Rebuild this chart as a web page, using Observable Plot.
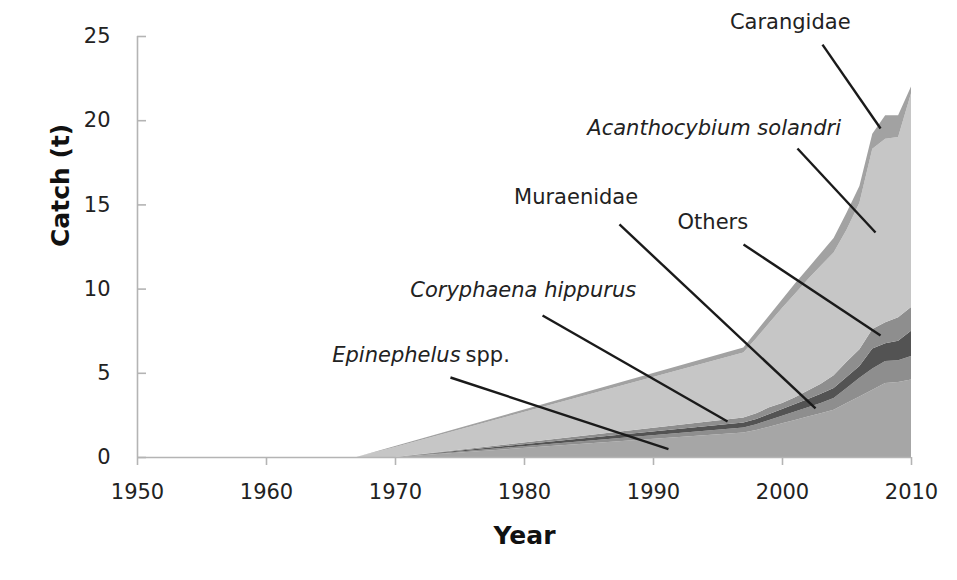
<!DOCTYPE html>
<html>
<head>
<meta charset="utf-8">
<script src="https://cdn.jsdelivr.net/npm/d3@7"></script>
<script src="https://cdn.jsdelivr.net/npm/@observablehq/plot@0.6"></script>
<style>
  html, body { margin: 0; padding: 0; background: #ffffff; }
  #chart { width: 957px; height: 580px; }
</style>
</head>
<body>
<div id="chart"></div>
<script>
// ---- data ----
const years = [1967, 1970, 1997, 1998, 1999, 2000, 2001, 2002, 2003, 2004, 2005, 2006, 2007, 2008, 2009, 2010];
const epinephelus   = [0, 0,    1.45, 1.6,  1.8,  2.0,  2.2,  2.4,  2.6,  2.8,  3.2,  3.6,  4.0,  4.4,  4.45, 4.6];
const coryphaena    = [0, 0,    0.3,  0.35, 0.4,  0.45, 0.5,  0.55, 0.6,  0.7,  0.9,  1.1,  1.25, 1.3,  1.3,  1.4];
const muraenidae    = [0, 0,    0.3,  0.3,  0.35, 0.4,  0.45, 0.5,  0.55, 0.6,  0.65, 0.7,  1.2,  1.05, 1.15, 1.5];
const others        = [0, 0,    0.3,  0.35, 0.4,  0.35, 0.4,  0.5,  0.6,  0.75, 0.9,  1.0,  1.15, 1.25, 1.4,  1.4];
const acanthocybium = [0, 0.6,  3.85, 4.45, 5.0,  5.65, 6.15, 6.6,  7.0,  7.3,  7.85, 8.7,  10.7, 10.9, 10.7, 12.7];
const carangidae    = [0, 0.05, 0.3,  0.4,  0.45, 0.5,  0.6,  0.65, 0.75, 0.85, 1.0,  1.0,  0.9,  1.4,  1.3,  0.4];

const species = ["Epinephelus spp.", "Coryphaena hippurus", "Muraenidae", "Others", "Acanthocybium solandri", "Carangidae"];
const seriesValues = [epinephelus, coryphaena, muraenidae, others, acanthocybium, carangidae];
const speciesColors = ["#a6a6a6", "#8e8e8e", "#535353", "#8e8e8e", "#c6c6c6", "#a2a2a2"];

const xTicks = [1950, 1960, 1970, 1980, 1990, 2000, 2010];
const yTicks = [0, 5, 10, 15, 20, 25];

// annotation labels (data coordinates: year, catch)
const labelText   = ["Carangidae", "Acanthocybium solandri", "Muraenidae", "Others", "Coryphaena hippurus"];
const labelItalic = [false, true, false, false, true];
const labelYear   = [2000.6, 1994.7, 1984.0, 1994.6, 1979.9];
const labelCatch  = [25.83, 19.54, 15.44, 13.95, 9.92];
const epiLabelYear = 1975.2, epiLabelCatch = 6.06;

// leader lines (data coordinates)
const leaderYear1  = [2003.1, 2001.16, 1987.36, 1996.98, 1981.40, 1974.26];
const leaderCatch1 = [24.52, 18.35, 13.84, 12.65, 8.43, 4.75];
const leaderYear2  = [2007.6, 2007.21, 2002.56, 2007.60, 1995.74, 1991.16];
const leaderCatch2 = [19.54, 13.36, 2.91, 7.24, 2.14, 0.50];

// ---- build tables ----
const rows = [];
years.forEach((yr, i) => {
  species.forEach((s, k) => rows.push({year: yr, species: s, catch: seriesValues[k][i]}));
});
const labels = labelText.map((t, i) => ({text: t, italic: labelItalic[i], year: labelYear[i], catch: labelCatch[i]}));
const leaders = leaderYear1.map((_, i) => ({x1: leaderYear1[i], y1: leaderCatch1[i], x2: leaderYear2[i], y2: leaderCatch2[i]}));

const axisGray = "#b4b4b4";
const textColor = "#222222";

const chart = Plot.plot({
  width: 957,
  height: 580,
  marginLeft: 137,
  marginRight: 46,
  marginTop: 36,
  marginBottom: 123,
  style: {fontFamily: "'DejaVu Sans', Verdana, sans-serif", fontSize: "21px", background: "#ffffff", overflow: "visible"},
  x: {domain: [1950, 2010]},
  y: {domain: [0, 25]},
  color: {domain: species, range: speciesColors},
  marks: [
    Plot.areaY(rows, {x: "year", y: "catch", fill: "species", order: species, curve: "linear"}),
    Plot.ruleX([1950], {y1: 0, y2: 25, stroke: axisGray, strokeWidth: 1.6}),
    Plot.ruleY([0], {stroke: axisGray, strokeWidth: 1.6}),
    Plot.axisX({ticks: xTicks, tickFormat: d => String(d), tickSize: 8, tickPadding: 19, stroke: axisGray, strokeWidth: 1.6, fill: textColor, fontSize: 21, label: null}),
    Plot.axisY({ticks: yTicks, tickSize: 0, tickPadding: 27, fill: textColor, fontSize: 21, label: null}),
    Plot.axisY({ticks: yTicks, tickSize: 9, dx: 9, tickFormat: () => "", stroke: axisGray, strokeWidth: 1.6, label: null}),
    Plot.text(["Year"], {frameAnchor: "bottom", dy: 78, fontWeight: "bold", fontSize: 25, fill: "#111", lineAnchor: "middle"}),
    Plot.text(["Catch (t)"], {frameAnchor: "left", dx: -77, rotate: -90, fontWeight: "bold", fontSize: 25, fill: "#111", lineAnchor: "middle"}),
    Plot.link(leaders, {x1: "x1", y1: "y1", x2: "x2", y2: "y2", stroke: "#1a1a1a", strokeWidth: 2.4}),
    Plot.text(labels.filter(d => !d.italic), {x: "year", y: "catch", text: "text", fill: textColor, fontSize: 21, lineAnchor: "middle"}),
    Plot.text(labels.filter(d => d.italic), {x: "year", y: "catch", text: "text", fill: textColor, fontSize: 21, fontStyle: "italic", lineAnchor: "middle"}),
    Plot.text([{t: "Epinephelus"}], {x: () => epiLabelYear, y: () => epiLabelCatch, text: "t", textAnchor: "end", dx: -2, fontStyle: "italic", fill: textColor, fontSize: 21, lineAnchor: "middle"}),
    Plot.text([{t: "spp."}], {x: () => epiLabelYear, y: () => epiLabelCatch, text: "t", textAnchor: "start", dx: 3, fill: textColor, fontSize: 21, lineAnchor: "middle"})
  ]
});
document.getElementById("chart").appendChild(chart);
</script>
</body>
</html>
